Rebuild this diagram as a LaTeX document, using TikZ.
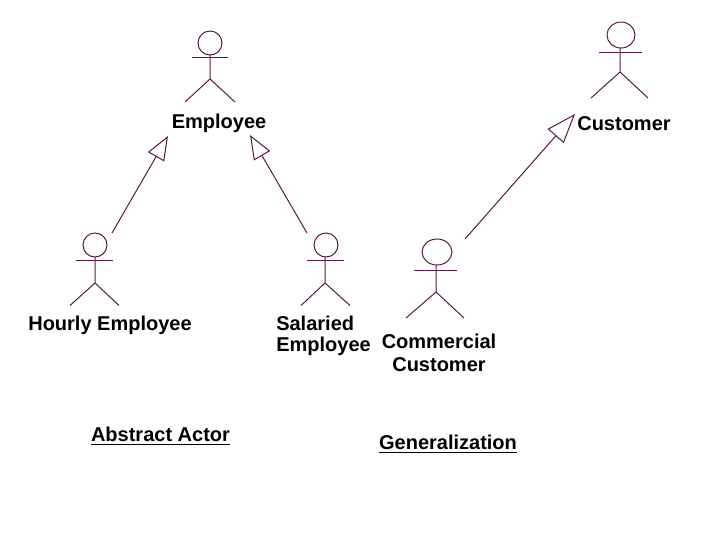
\documentclass[tikz,border=0pt]{standalone}
\usepackage{fontspec}
\setmainfont{Liberation Sans}
\usetikzlibrary{arrows.meta}
\definecolor{actorline}{HTML}{5A1846}
\tikzset{
	actor/.style={draw=actorline,line width=0.75pt},
	gen/.style={draw=actorline,line width=0.75pt,-{Triangle[open,length=18pt,width=14pt]}},
	genlong/.style={draw=actorline,line width=0.75pt,-{Triangle[open,length=22pt,width=16pt]}},
	lbl/.style={inner sep=0pt,font=\fontsize{15pt}{15.75pt}\selectfont\bfseries,text=black}
}
\begin{document}
\begin{tikzpicture}[x=0.75pt,y=-0.75pt]
	\useasboundingbox (0,0) rectangle (720,540);
	\coordinate (E) at (210,43);
	\coordinate (C) at (621,35);
	\coordinate (H) at (95,245);
	\coordinate (S) at (326,245);
	\coordinate (K) at (437,252);
	\coordinate (Etipl) at (168,136);
	\coordinate (Etipr) at (250,135);
	\coordinate (Ctip) at (575,114);
	\coordinate (Htail) at (112,233);
	\coordinate (Stail) at (307,233);
	\coordinate (Ktail) at (465,239);
	% actors
	\draw[actor] (E) circle (12);
	\draw[actor] (192,57.5) to (228,57.5);
	\draw[actor] (210,55) to (210,79) to (185,102);
	\draw[actor] (210,79) to (235,102);
	\draw[actor] (C) ellipse (14 and 13);
	\draw[actor] (599,52.5) to (642,52.5);
	\draw[actor] (620,48) to (620,72) to (591,98);
	\draw[actor] (620,72) to (648,98);
	\draw[actor] (H) circle (12);
	\draw[actor] (76,260) to (113,260);
	\draw[actor] (95,257) to (95,283) to (70,305.5);
	\draw[actor] (95,283) to (119,305.5);
	\draw[actor] (S) circle (12);
	\draw[actor] (307,260) to (344,260);
	\draw[actor] (325,257) to (325,283) to (301,305.5);
	\draw[actor] (325,283) to (350,305.5);
	\draw[actor] (K) ellipse (15 and 13);
	\draw[actor] (414,270.5) to (457,270.5);
	\draw[actor] (436,265) to (436,292) to (406,318);
	\draw[actor] (436,292) to (464,318);
	% generalizations
	\draw[gen] (Htail) to (Etipl);
	\draw[gen] (Stail) to (Etipr);
	\draw[genlong] (Ktail) to (Ctip);
	% labels
	\node[lbl] (employee) at (219,123) {Employee};
	\node[lbl] (customer) at (624,124) {Customer};
	\node[lbl] (hourly) at (110,325) {Hourly Employee};
	\node[lbl,anchor=west,align=left] (salaried) at (276,335.5) {Salaried\\Employee};
	\node[lbl,align=center] (commercial) at (439,352.5) {Commercial\\[1.5pt]Customer};
	\node[lbl] (abstract) at (160.5,436) {\underline{Abstract Actor}};
	\node[lbl] (generalization) at (448,444) {\underline{Generalization}};
\end{tikzpicture}
\end{document}
